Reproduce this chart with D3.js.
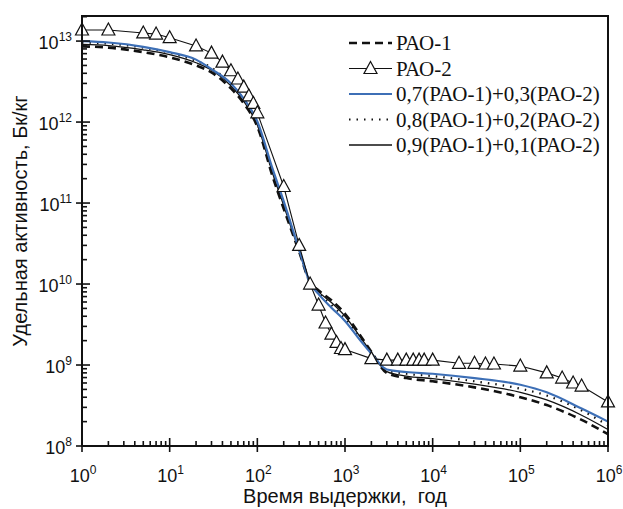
<!DOCTYPE html>
<html>
<head>
<meta charset="utf-8">
<script src="https://cdn.jsdelivr.net/npm/d3@7"></script>
<style>
  body { margin: 0; background: #fff; }
  svg { display: block; }
</style>
</head>
<body>
<div class="canvas"></div>
<script>
// time grid for the smooth curves (years)
const years = [1, 2, 5, 10, 20, 30, 50, 70, 100, 150, 200, 300, 400, 500, 700,
  1000, 1500, 2000, 3000, 5000, 1e4, 3e4, 1e5, 2e5, 5e5, 1e6];

const pao1 = [8.6e12, 8.3e12, 7.3e12, 6.3e12, 5.0e12, 4.1e12, 2.6e12, 1.7e12, 8.8e11, 2.1e11,
  8.5e10, 2.5e10, 1.05e10, 8.3e9, 6.3e9, 4.3e9, 2.3e9, 1.45e9, 8.0e8, 6.9e8,
  6.3e8, 5.3e8, 4.0e8, 3.2e8, 2.1e8, 1.4e8];

const mix73 = [1.0e13, 9.6e12, 8.5e12, 7.3e12, 5.9e12, 4.5e12, 3.0e12, 1.95e12, 1.02e12, 2.6e11,
  1.05e11, 2.65e10, 1.03e10, 7.5e9, 5.1e9, 3.5e9, 2.0e9, 1.38e9, 8.8e8, 8.2e8,
  7.8e8, 6.9e8, 5.7e8, 4.6e8, 2.9e8, 2.0e8];

const mix82 = [9.6e12, 9.3e12, 8.3e12, 7.2e12, 5.7e12, 4.7e12, 2.9e12, 1.9e12, 9.6e11, 2.4e11,
  1.0e11, 2.6e10, 1.04e10, 7.7e9, 5.5e9, 3.75e9, 2.1e9, 1.4e9, 8.7e8, 7.8e8,
  7.3e8, 6.3e8, 5.1e8, 4.2e8, 2.75e8, 1.8e8];

const mix91 = [9.1e12, 8.8e12, 7.8e12, 6.8e12, 5.4e12, 4.4e12, 2.8e12, 1.8e12, 9.2e11, 2.3e11,
  9.3e10, 2.55e10, 1.05e10, 8.0e9, 5.9e9, 4.0e9, 2.2e9, 1.42e9, 8.3e8, 7.3e8,
  6.8e8, 5.8e8, 4.6e8, 3.7e8, 2.4e8, 1.6e8];

// РАО-2 is drawn with markers at its own points
const pao2Years = [1, 2, 5, 7, 10, 20, 30, 40, 50, 60, 70, 80, 90, 100, 200, 300, 400, 500,
  600, 700, 800, 900, 1000, 2000, 3000, 4000, 5000, 6000, 7000, 8000, 10000,
  20000, 30000, 40000, 50000, 1e5, 2e5, 3e5, 4e5, 5e5, 1e6];
const pao2 = [1.37e13, 1.37e13, 1.26e13, 1.22e13, 1.1e13, 8.7e12, 7.1e12, 5.5e12, 4.3e12, 3.4e12,
  2.7e12, 2.1e12, 1.7e12, 1.3e12, 1.6e11, 3.0e10, 1.0e10, 5.5e9,
  3.3e9, 2.4e9, 1.9e9, 1.6e9, 1.55e9, 1.2e9, 1.15e9, 1.15e9, 1.15e9, 1.15e9, 1.15e9, 1.15e9, 1.15e9,
  1.05e9, 1.05e9, 1.03e9, 1.03e9, 9.7e8, 8.0e8, 6.9e8, 6.0e8, 5.5e8, 3.5e8];

const xTicks = [1, 10, 100, 1e3, 1e4, 1e5, 1e6];
const yTicks = [1e8, 1e9, 1e10, 1e11, 1e12, 1e13];

const legendNames = ['РАО-1', 'РАО-2', '0,7(РАО-1)+0,3(РАО-2)', '0,8(РАО-1)+0,2(РАО-2)', '0,9(РАО-1)+0,1(РАО-2)'];

const W = 623, H = 509;
const svg = d3.select('.canvas').append('svg').attr('width', W).attr('height', H);

const x = d3.scaleLog().domain([1, 1e6]).range([82, 608]);
const y = d3.scaleLog().domain([1e8, 2.04e13]).range([446, 16]);

const plot = svg.append('g');

// curves
const line = d3.line()
  .x(d => x(d[0]))
  .y(d => y(d[1]))
  .curve(d3.curveMonotoneX);

const series = [
  { vals: pao1, stroke: '#111', width: 2.6, dash: '8,5' },
  { vals: mix91, stroke: '#111', width: 1.3, dash: null },
  { vals: mix82, stroke: '#111', width: 2.2, dash: '1.5,6' },
  { vals: mix73, stroke: '#3d6fb6', width: 2.2, dash: null },
];

series.forEach(s => {
  plot.append('path')
    .datum(years.map((t, i) => [t, s.vals[i]]))
    .attr('fill', 'none')
    .attr('stroke', s.stroke)
    .attr('stroke-width', s.width)
    .attr('stroke-dasharray', s.dash)
    .attr('d', line);
});

const p2 = pao2Years.map((t, i) => [t, pao2[i]]);
plot.append('path')
  .datum(p2)
  .attr('fill', 'none')
  .attr('stroke', '#111')
  .attr('stroke-width', 1.1)
  .attr('d', d3.line().x(d => x(d[0])).y(d => y(d[1])));

const tri = 'M0,-7L6.5,5H-6.5Z';
plot.selectAll('.tri')
  .data(p2)
  .enter()
  .append('path')
  .attr('class', 'tri')
  .attr('transform', d => `translate(${x(d[0])},${y(d[1])})`)
  .attr('d', tri)
  .attr('fill', '#fff')
  .attr('stroke', '#111')
  .attr('stroke-width', 1.2);

// frame
svg.append('rect')
  .attr('x', 82).attr('y', 16)
  .attr('width', 608 - 82).attr('height', 446 - 16)
  .attr('fill', 'none')
  .attr('stroke', '#111')
  .attr('stroke-width', 2);

// minor ticks
const minorX = [];
const minorY = [];
xTicks.slice(0, -1).forEach(t => { for (let k = 2; k < 10; k++) minorX.push(t * k); });
yTicks.forEach(t => { for (let k = 2; k < 10; k++) if (t * k < 2.04e13) minorY.push(t * k); });

const ticks = svg.append('g').attr('stroke', '#111').attr('stroke-width', 1.6);
ticks.selectAll('.mx').data(minorX).enter().append('line')
  .attr('x1', d => x(d)).attr('x2', d => x(d))
  .attr('y1', 446).attr('y2', 441);
ticks.selectAll('.my').data(minorY).enter().append('line')
  .attr('y1', d => y(d)).attr('y2', d => y(d))
  .attr('x1', 82).attr('x2', 87);
ticks.selectAll('.Mx').data(xTicks).enter().append('line')
  .attr('x1', d => x(d)).attr('x2', d => x(d))
  .attr('y1', 452).attr('y2', 438);
ticks.selectAll('.My').data(yTicks).enter().append('line')
  .attr('y1', d => y(d)).attr('y2', d => y(d))
  .attr('x1', 76).attr('x2', 90);

// tick labels
const font = "'Liberation Sans', Arial, sans-serif";
function powLabel(sel) {
  sel.append('tspan').text('10');
  sel.append('tspan')
    .attr('dy', -8)
    .style('font-size', '12px')
    .text(d => Math.round(Math.log10(d)));
}

svg.selectAll('.xl').data(xTicks).enter().append('text')
  .attr('x', d => x(d) + 1)
  .attr('y', 482)
  .attr('text-anchor', 'middle')
  .style('font-family', font).style('font-size', '18px').attr('fill', '#111')
  .call(powLabel);

svg.selectAll('.yl').data(yTicks).enter().append('text')
  .attr('x', 72)
  .attr('y', d => y(d) + 8)
  .attr('text-anchor', 'end')
  .style('font-family', font).style('font-size', '18px').attr('fill', '#111')
  .call(powLabel);

// axis titles
svg.append('text')
  .attr('transform', 'translate(27,221) rotate(-90)')
  .attr('text-anchor', 'middle')
  .style('font-family', font).style('font-size', '20px').attr('fill', '#111')
  .text('Удельная активность, Бк/кг');

svg.append('text')
  .attr('x', 345).attr('y', 503)
  .attr('text-anchor', 'middle')
  .style('font-family', font).style('font-size', '20px').style('white-space', 'pre')
  .attr('fill', '#111')
  .text('Время выдержки,  год');

// legend
const legStyles = [
  { stroke: '#111', width: 2.6, dash: '8,5', marker: false },
  { stroke: '#111', width: 1.1, dash: null, marker: true },
  { stroke: '#3d6fb6', width: 2.2, dash: null, marker: false },
  { stroke: '#111', width: 2.2, dash: '1.5,6', marker: false },
  { stroke: '#111', width: 1.4, dash: null, marker: false },
];
const legend = svg.append('g');
legendNames.forEach((name, i) => {
  const ly = 43 + i * 25.5;
  const st = legStyles[i];
  legend.append('line')
    .attr('x1', 349).attr('x2', 392)
    .attr('y1', ly).attr('y2', ly)
    .attr('stroke', st.stroke)
    .attr('stroke-width', st.width)
    .attr('stroke-dasharray', st.dash);
  if (st.marker) {
    legend.append('path')
      .attr('transform', `translate(370.5,${ly})`)
      .attr('d', tri)
      .attr('fill', '#fff').attr('stroke', '#111').attr('stroke-width', 1.2);
  }
  legend.append('text')
    .attr('x', 396).attr('y', ly + 7)
    .style('font-family', "'Liberation Serif', 'Times New Roman', serif")
    .style('font-size', '21px')
    .attr('fill', '#111')
    .text(name);
});
</script>
</body>
</html>
